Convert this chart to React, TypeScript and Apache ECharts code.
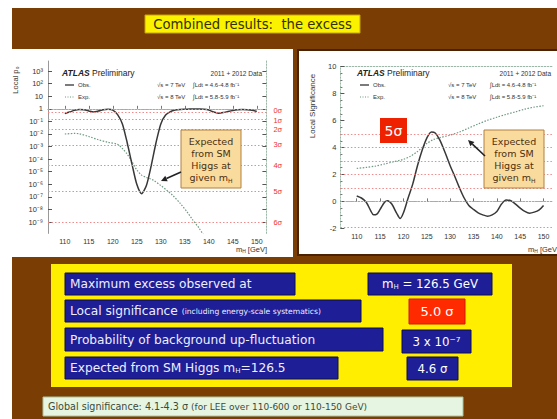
import React, { useEffect, useRef } from "react";
import * as echarts from "echarts";

// ---- shared mass axis ----
const massTicks = [110, 115, 120, 125, 130, 135, 140, 145, 150];

// ---- local p0 scan (left plot) ----
const obsP0Mass = [
  110, 111, 112, 113, 114, 115, 116, 117, 118, 119, 120, 121, 122, 123, 124, 125, 126, 127, 128, 129,
  130, 131, 132, 133, 134, 135, 136, 137, 138, 139, 140, 141, 142, 143, 144, 145, 146, 147, 148, 149, 150,
];
const obsP0 = [
  0.42, 0.55, 0.75, 0.9, 0.85, 0.68, 0.55, 0.66, 0.85, 0.92, 0.8, 0.35, 0.063, 2.0e-3, 4.0e-5, 1.0e-6,
  1.8e-7, 8.0e-7, 3.0e-5, 2.0e-3, 0.063, 0.32, 0.6, 0.8, 0.9, 0.93, 0.95, 0.96, 0.95, 0.92, 0.8, 0.55,
  0.45, 0.5, 0.62, 0.75, 0.85, 0.88, 0.86, 0.78, 0.62,
];
const expP0Mass = [
  110, 112, 113, 115, 117, 119, 121, 122, 123, 124, 125, 126, 127, 128.5, 130, 131.2, 132.5, 134, 135.5,
  136.7, 138, 139.5,
];
const expP0 = [
  1.0e-2, 1.1e-2, 1.05e-2, 6.3e-3, 3.5e-3, 2.2e-3, 1.5e-3, 7.0e-4, 2.5e-4, 6.3e-5, 1.4e-5, 5.4e-6,
  3.5e-6, 2.1e-6, 8.0e-7, 3.5e-7, 1.3e-7, 3.2e-8, 6.3e-9, 1.4e-9, 3.2e-10, 4.0e-11,
];
const p0Decades = [3, 2, 1, 0, -1, -2, -3, -4, -5, -6, -7, -8, -9];
const sigmaNames = ["0σ", "1σ", "2σ", "3σ", "4σ", "5σ", "6σ"];
const sigmaP0 = [0.5, 0.1587, 0.02275, 1.35e-3, 3.17e-5, 2.87e-7, 9.87e-10];

// ---- local significance scan (right plot) ----
const obsZMass = [
  110, 111, 112, 113, 113.6, 114.3, 115, 116, 116.6, 117.5, 118.5, 119.3, 120, 121, 122, 123, 124, 125,
  126, 126.8, 127.8, 129, 130, 131, 132, 133, 134, 135, 136, 137, 138, 139, 140, 141, 142, 143, 144, 145,
  146, 147, 148, 149, 150,
];
const obsZ = [
  0.4, 0.25, -0.05, -0.7, -1.0, -0.95, -0.6, -0.05, 0.05, -0.2, -0.85, -1.27, -0.85, 0.25, 1.3, 2.65,
  3.8, 4.7, 5.15, 5.08, 4.55, 3.55, 2.65, 1.85, 1.0, 0.25, -0.3, -0.6, -0.85, -1.0, -1.1, -1.0, -0.75,
  -0.2, 0.1, 0.05, -0.2, -0.5, -0.75, -0.88, -0.8, -0.65, -0.3,
];
const expZMass = [
  110, 112, 114, 116, 118, 120, 121.5, 123, 124, 125, 126.5, 128, 130, 132, 134, 136, 138, 140, 142, 144,
  146, 148, 150,
];
const expZ = [
  2.45, 2.52, 2.62, 2.78, 2.95, 3.12, 3.35, 3.7, 4.0, 4.3, 4.6, 4.75, 4.92, 5.15, 5.45, 5.75, 6.02, 6.25,
  6.46, 6.65, 6.85, 7.0, 7.1,
];
const zSigmaLines = [1, 2, 3, 4, 5];

// ---- summary table ----
const summaryRows = [
  "Maximum excess observed at",
  "Local significance {s|(including energy-scale systematics)}",
  "Probability of background up-fluctuation",
  "Expected from SM Higgs m{sub|H}=126.5",
];
const summaryValues = ["m{sub|H} = 126.5 GeV", "5.0 σ", "3 x 10⁻⁷", "4.6 σ"];

const SLIDE_FONT = "'DejaVu Sans', sans-serif";
const PLOT_FONT = "'Liberation Sans', Arial, sans-serif";

const SUP: Record<string, string> = {
  "-": "⁻", "0": "⁰", "1": "¹", "2": "²", "3": "³", "4": "⁴", "5": "⁵", "6": "⁶", "7": "⁷", "8": "⁸", "9": "⁹",
};
function decadeLabel(v: number): string {
  const n = Math.round(v);
  if (n === 0) return "1";
  if (n === 1) return "10";
  return "10" + String(n).split("").map((c) => SUP[c] || c).join("");
}

function rect(x: number, y: number, w: number, h: number, style: any, z = -10): any {
  return { type: "rect", shape: { x, y, width: w, height: h }, style, z, silent: true };
}

function text(x: number, y: number, str: string, opts: any = {}, z = 20): any {
  const { align = "left", vAlign = "middle", rotation, ...style } = opts;
  return {
    type: "text",
    x,
    y,
    rotation,
    z,
    silent: true,
    style: {
      text: str,
      align,
      textAlign: align,
      verticalAlign: vAlign,
      textVerticalAlign: vAlign,
      fontFamily: PLOT_FONT,
      fill: "#333",
      ...style,
    },
  };
}

function arrow(x1: number, y1: number, x2: number, y2: number): any[] {
  const dx = x2 - x1;
  const dy = y2 - y1;
  const len = Math.sqrt(dx * dx + dy * dy);
  const ux = dx / len;
  const uy = dy / len;
  const L = 6;
  const W = 3;
  const bx = x2 - ux * L;
  const by = y2 - uy * L;
  return [
    { type: "line", z: 60, silent: true, shape: { x1, y1, x2: bx, y2: by }, style: { stroke: "#222", lineWidth: 1.6 } },
    {
      type: "polygon",
      z: 60,
      silent: true,
      shape: { points: [[x2, y2], [bx - uy * W, by + ux * W], [bx + uy * W, by - ux * W]] },
      style: { fill: "#222" },
    },
  ];
}

function noteBox(x: number, y: number): any[] {
  return [
    rect(x, y, 60, 58, { fill: "#fadb9e", stroke: "#b08040", lineWidth: 1 }, 55),
    text(x + 30, y + 29, "Expected\nfrom SM\nHiggs at\ngiven m{sub|H}", {
      align: "center",
      fontFamily: SLIDE_FONT,
      fontSize: 9.5,
      lineHeight: 12,
      fill: "#4a3010",
      rich: { sub: { fontSize: 6, fill: "#4a3010", fontFamily: SLIDE_FONT, verticalAlign: "bottom", lineHeight: 12 } },
    }, 58),
  ];
}

function plotLegend(x0: number, xRight: number, xSqrt: number, xLumi: number): any[] {
  const small = { fontSize: 6, fill: "#333" };
  return [
    text(x0, 73, "{a|ATLAS} Preliminary", {
      fontSize: 8.5,
      fill: "#222",
      rich: { a: { fontSize: 8.5, fontWeight: "bold", fontStyle: "italic", fill: "#222", fontFamily: PLOT_FONT } },
    }),
    text(xRight, 73, "2011 + 2012 Data", { ...small, fontSize: 6.5, align: "right" }),
    { type: "line", z: 20, silent: true, shape: { x1: x0 + 3, y1: 85, x2: x0 + 12, y2: 85 }, style: { stroke: "#333", lineWidth: 1.3 } },
    text(x0 + 16, 85, "Obs.", small),
    {
      type: "line",
      z: 20,
      silent: true,
      shape: { x1: x0 + 3, y1: 97, x2: x0 + 12, y2: 97 },
      style: { stroke: "#6f9a80", lineWidth: 1.2, lineDash: [1, 1.5] },
    },
    text(x0 + 16, 97, "Exp.", small),
    text(xSqrt, 85, "√s = 7 TeV", small),
    text(xSqrt, 97, "√s = 8 TeV", small),
    text(xLumi, 85, "∫Ldt = 4.6-4.8 fb⁻¹", small),
    text(xLumi, 97, "∫Ldt = 5.8-5.9 fb⁻¹", small),
  ];
}

function buildGraphic(): any[] {
  const navy = { fill: "#1e1e96", stroke: "#0c0c55", lineWidth: 1 };
  const rowBoxes = [
    [65, 273, 230, 22],
    [65, 300, 296, 22],
    [65, 328, 318, 23],
    [65, 357, 273, 22],
  ];
  const valueBoxes = [
    [368, 273, 124, 22],
    [409, 299, 56, 25],
    [402, 330, 69, 23],
    [407, 357, 51, 23],
  ];
  const whiteRich = {
    s: { fontSize: 7.6, fill: "#eeeeff", fontFamily: SLIDE_FONT },
    sub: { fontSize: 7, fill: "#eeeeff", fontFamily: SLIDE_FONT, verticalAlign: "bottom" },
  };
  const els: any[] = [
    // slide background
    rect(12, 8, 545, 411, { fill: "#7a3d04" }, -30),
    rect(145, 15, 215, 18, { fill: "#fbf200", stroke: "#c9a400", lineWidth: 1 }, -20),
    text(252.5, 24.5, "Combined results:  the excess", { align: "center", fontFamily: SLIDE_FONT, fontSize: 13.2, fill: "#333000" }),
    // plot panels
    rect(0, 49, 293, 208, { fill: "#ffffff" }, -20),
    rect(298, 50, 262, 205, { fill: "#ffffff", stroke: "#4a2200", lineWidth: 2 }, -20),
    // summary panel
    rect(51, 264, 461, 123, { fill: "#ffee00" }, -20),
    rect(43, 397, 420, 19, { fill: "#e6f5e1", stroke: "#a6c4a0", lineWidth: 1 }, -20),
    text(48, 406.5, "Global significance: 4.1-4.3 σ {s|(for LEE over 110-600 or 110-150 GeV)}", {
      fontFamily: SLIDE_FONT,
      fontSize: 9.6,
      fill: "#3c4a3c",
      rich: { s: { fontSize: 9, fill: "#3c4a3c", fontFamily: SLIDE_FONT } },
    }),
  ];
  rowBoxes.forEach((b, i) => {
    els.push(rect(b[0], b[1], b[2], b[3], navy, -15));
    els.push(
      text(b[0] + 5, b[1] + b[3] / 2, summaryRows[i], {
        fontFamily: SLIDE_FONT,
        fontSize: 12.2,
        fill: "#eeeeff",
        rich: whiteRich,
      })
    );
  });
  valueBoxes.forEach((b, i) => {
    const isRed = i === 1;
    els.push(rect(b[0], b[1], b[2], b[3], isRed ? { fill: "#ff2a00", stroke: "#d01800", lineWidth: 1 } : navy, -15));
    els.push(
      text(b[0] + b[2] / 2, b[1] + b[3] / 2, summaryValues[i], {
        align: "center",
        fontFamily: SLIDE_FONT,
        fontSize: isRed ? 13 : 11.8,
        fill: "#ffffff",
        rich: whiteRich,
      })
    );
  });

  // left plot texts
  els.push(text(15, 80, "Local p₀", { align: "center", rotation: Math.PI / 2, fontSize: 7.5 }));
  els.push(text(267, 249, "m{sub|H} [GeV]", {
    align: "right",
    fontSize: 7.5,
    rich: { sub: { fontSize: 5, fill: "#333", verticalAlign: "bottom" } },
  }));
  els.push(...plotLegend(62, 262, 157, 193));
  els.push(...noteBox(181, 130));
  els.push(...arrow(181, 172, 161, 181));

  // right plot texts
  els.push(text(312, 106, "Local Significance", { align: "center", rotation: Math.PI / 2, fontSize: 8 }));
  els.push(text(557, 249, "m{sub|H} [GeV", {
    align: "right",
    fontSize: 7.5,
    rich: { sub: { fontSize: 5, fill: "#333", verticalAlign: "bottom" } },
  }));
  els.push(...plotLegend(357, 551, 448, 490));
  els.push(rect(380, 118, 27, 25, { fill: "#ee2200" }, 55));
  els.push(text(393.5, 131, "5σ", { align: "center", fontSize: 14, fill: "#ffffff", fontFamily: SLIDE_FONT }, 58));
  els.push(...noteBox(484, 130));
  els.push(...arrow(485, 156, 468, 140));
  return els;
}

const frameLine = { color: "#9cb8a6", width: 1, type: [1.5, 1.5] };
const sigmaLine = { type: [1.5, 2], color: "#f08a8a", width: 1 };
const zeroLine = { type: [1.5, 2], color: "#8fb49c", width: 1 };

function buildOption(): any {
  const massAxis = (gridIndex: number) => ({
    type: "value",
    gridIndex,
    min: 106.5,
    max: 152,
    axisLine: { show: true, lineStyle: frameLine },
    splitLine: { show: false },
    axisTick: { show: true, inside: true, length: 3, customValues: massTicks, lineStyle: { color: "#777" } },
    axisLabel: { customValues: massTicks, fontSize: 7, color: "#333", margin: 5, fontFamily: PLOT_FONT },
  });
  // plain frame line along the top of a plot
  const topFrame = (gridIndex: number) => ({
    type: "value",
    gridIndex,
    position: "top",
    min: 106.5,
    max: 152,
    axisLine: { show: true, lineStyle: frameLine },
    axisTick: { show: false },
    axisLabel: { show: false },
    splitLine: { show: false },
  });
  const p0Axis = (position: string, labels: boolean) => ({
    type: "value",
    gridIndex: 0,
    position,
    min: -9.9,
    max: 3.8,
    axisLine: { show: true, lineStyle: labels ? { color: "#999", width: 1 } : frameLine },
    splitLine: { show: false },
    axisTick: { show: true, inside: true, length: 4, customValues: p0Decades, lineStyle: { color: "#555" } },
    axisLabel: {
      show: labels,
      customValues: p0Decades,
      formatter: (v: number) => decadeLabel(v),
      fontSize: 7.5,
      color: "#333",
      margin: 5,
      fontFamily: PLOT_FONT,
    },
  });
  return {
    animation: false,
    textStyle: { fontFamily: PLOT_FONT },
    grid: [
      { left: 48, top: 61, width: 218.4, height: 172.4 },
      { left: 340.4, top: 66.7, width: 212.5, height: 161.6 },
    ],
    xAxis: [massAxis(0), massAxis(1), topFrame(0), topFrame(1)],
    yAxis: [
      p0Axis("left", true),
      p0Axis("right", false),
      {
        type: "value",
        gridIndex: 1,
        min: -2,
        max: 10,
        interval: 2,
        axisLine: { show: true, lineStyle: frameLine },
        splitLine: { show: false },
        axisTick: { show: true, inside: true, length: 4, lineStyle: { color: "#555" } },
        minorTick: { show: true, splitNumber: 4, length: 2, lineStyle: { color: "#777" } },
        axisLabel: { fontSize: 7.5, color: "#333", margin: 4, fontFamily: PLOT_FONT },
      },
    ],
    graphic: { elements: buildGraphic() },
    series: [
      {
        name: "Exp. p0",
        type: "line",
        xAxisIndex: 0,
        yAxisIndex: 0,
        data: expP0Mass.map((m, i) => [m, Math.log10(expP0[i])]),
        showSymbol: false,
        smooth: 0.3,
        clip: true,
        lineStyle: { color: "#6f9a80", width: 1.2, type: [1.5, 1.5] },
        markLine: {
          silent: true,
          symbol: ["none", "none"],
          label: { show: false },
          lineStyle: zeroLine,
          data: [{ yAxis: 0 }],
        },
      },
      {
        name: "Obs. p0",
        type: "line",
        xAxisIndex: 0,
        yAxisIndex: 0,
        data: obsP0Mass.map((m, i) => [m, Math.log10(obsP0[i])]),
        showSymbol: false,
        smooth: 0.25,
        lineStyle: { color: "#383838", width: 1.5 },
        markLine: {
          silent: true,
          symbol: ["none", "none"],
          lineStyle: sigmaLine,
          label: {
            show: true,
            position: "end",
            formatter: "{b}",
            color: "#ee3030",
            fontSize: 7.5,
            distance: 7,
            fontFamily: PLOT_FONT,
          },
          data: sigmaP0.map((p, i) => ({
            yAxis: Math.log10(p),
            name: sigmaNames[i],
            label: i === 0 ? { offset: [0, -2.5] } : i === 1 ? { offset: [0, 1.5] } : {},
          })),
        },
      },
      {
        name: "Exp. Z",
        type: "line",
        xAxisIndex: 1,
        yAxisIndex: 2,
        data: expZMass.map((m, i) => [m, expZ[i]]),
        showSymbol: false,
        smooth: 0.3,
        lineStyle: { color: "#6f9a80", width: 1.2, type: [1.5, 1.5] },
        markLine: {
          silent: true,
          symbol: ["none", "none"],
          label: { show: false },
          lineStyle: zeroLine,
          data: [{ yAxis: 0 }],
        },
      },
      {
        name: "Obs. Z",
        type: "line",
        xAxisIndex: 1,
        yAxisIndex: 2,
        data: obsZMass.map((m, i) => [m, obsZ[i]]),
        showSymbol: false,
        smooth: 0.3,
        lineStyle: { color: "#383838", width: 1.5 },
        markLine: {
          silent: true,
          symbol: ["none", "none"],
          label: { show: false },
          lineStyle: sigmaLine,
          data: [...zSigmaLines.map((z) => ({ yAxis: z })), { yAxis: -1.9 }],
        },
      },
    ],
  };
}

export default function App() {
  const ref = useRef<HTMLDivElement>(null);
  useEffect(() => {
    if (!ref.current) return;
    const chart = echarts.init(ref.current, null, { renderer: "svg" });
    chart.setOption(buildOption());
    return () => chart.dispose();
  }, []);
  return <div ref={ref} style={{ position: "absolute", left: 0, top: 0, width: 557, height: 419 }} />;
}
